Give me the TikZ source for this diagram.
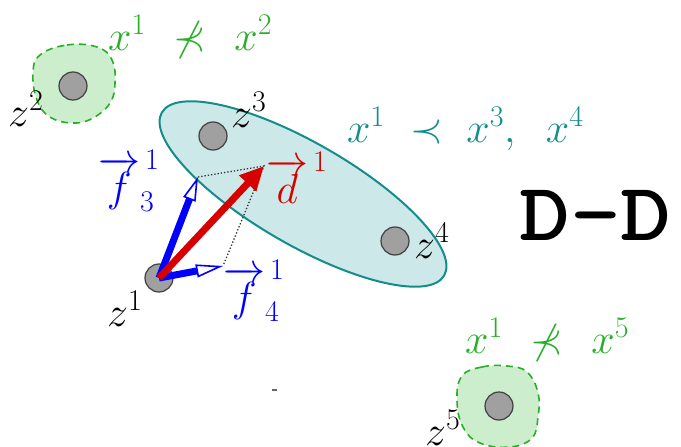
\documentclass[tikz,border=0pt]{standalone}
\usepackage{fix-cm}
\usepackage{amssymb}
\usetikzlibrary{arrows.meta}
\DeclareMathSizes{42}{42}{30}{21}
\definecolor{grn}{RGB}{40,175,40}
\definecolor{grnfill}{RGB}{205,238,205}
\definecolor{tealc}{RGB}{20,140,140}
\definecolor{tealfill}{RGB}{204,232,232}
\definecolor{dotgray}{RGB}{160,160,160}
\definecolor{myred}{RGB}{215,0,0}
\begin{document}
\begin{tikzpicture}[x=1pt,y=-1pt,
  big/.style={inner sep=0pt,anchor=base west,font=\fontsize{42}{44}\selectfont},
  pt/.style={circle,draw=black!75,line width=1.2pt,fill=dotgray,minimum size=28pt,inner sep=0pt},
  blob/.style={draw=grn,dashed,dash pattern=on 7pt off 5pt,line width=1.6pt,fill=grnfill},
  vecline/.style={line width=7pt}]
\useasboundingbox (0,0) rectangle (681,447);
% green blobs
\draw[blob] plot[smooth cycle,tension=0.7] coordinates {(40,55) (67,45) (97,47) (112,60) (115,83) (110,103) (93,118) (73,123) (50,117) (37,100) (33,73)};
\draw[blob] plot[smooth cycle,tension=0.7] coordinates {(462,376) (482,367) (507,366) (527,372) (538,393) (538,417) (532,438) (510,447) (480,443) (463,427) (457,400)};
% teal ellipse
\draw[tealc,line width=2pt,fill=tealfill,rotate around={-30:(303,194)}] (303,194) ellipse[x radius=163pt, y radius=51pt];
% points
\node[pt] (z2) at (73,86) {};
\node[pt] (z3) at (213,136) {};
\node[pt] (z4) at (395,241) {};
\node[pt] (z1) at (159,278) {};
\node[pt] (z5) at (499,406) {};
% labels of points
\node[big] (lz2) at (8,126) {$z^2$};
\node[big] (lz3) at (231,127) {$z^3$};
\node[big] (lz4) at (414,258) {$z^4$};
\node[big] (lz1) at (107,326) {$z^1$};
\node[big] (lz5) at (425,445) {$z^5$};
% relations
\node[big,text=grn] (r12) at (108,50) {$x^1\mkern7mu\nprec\mkern7mu x^2$};
\node[big,text=tealc] (r134) at (347,142) {$x^1\mkern6mu\prec\mkern5mu x^3,\mkern10mu x^4$};
\node[big,text=grn] (r15) at (465,353) {$x^1\mkern7mu\nprec\mkern7mu x^5$};
% vector tips
\coordinate (f3) at (198,177);
\coordinate (f4) at (223,266);
\coordinate (d1) at (264,166);
\draw[dotted,line width=1.3pt,black!80] (f3) -- (d1) -- (f4);
\draw[vecline,blue,-{Triangle[fill=white,line width=1.6pt,length=24pt,width=13pt]}] (z1.center) -- (f3);
\draw[vecline,blue,-{Triangle[fill=white,line width=1.6pt,length=27pt,width=13pt]}] (z1.center) -- (f4);
\draw[vecline,myred,-{Triangle[length=24pt,width=22pt]}] (z1.center) -- (d1);
% vector labels
\node[big,text=blue] (lf3) at (98,201) {$\overrightarrow{f}^{\,1}_{3}$};
\node[big,text=blue] (lf4) at (223,311) {$\overrightarrow{f}^{\,1}_{4}$};
\node[big,text=myred] (ld1) at (266,203) {$\overrightarrow{d}^{\,1}$};
% stray dot
\fill[black!60] (272,389) rectangle (277,391);
% title
\node[inner sep=0pt,anchor=base west,font=\ttfamily\bfseries\fontsize{82}{82}\selectfont] (title) at (519,240) {\scalebox{1.18}[1]{D-D}};
\end{tikzpicture}
\end{document}
